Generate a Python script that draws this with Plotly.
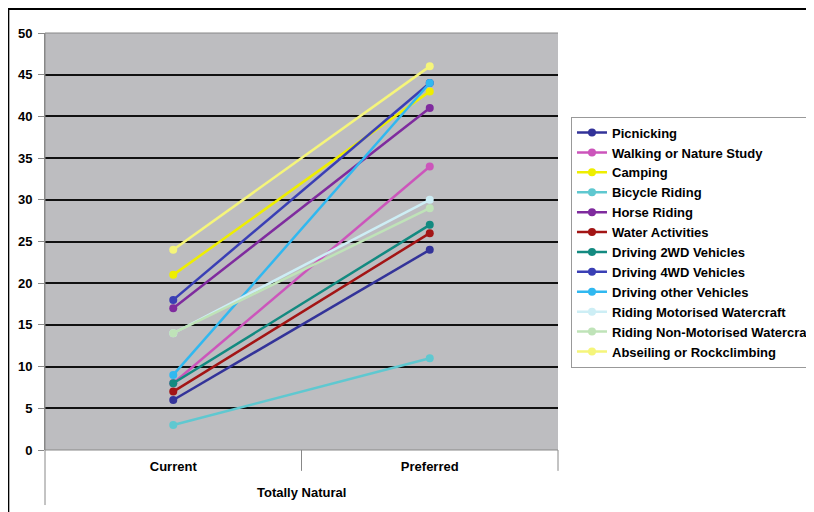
import plotly.graph_objects as go

group_label = "Totally Natural"
periods = ["Current", "Preferred"]

series_names = [
    "Picnicking",
    "Walking or Nature Study",
    "Camping",
    "Bicycle Riding",
    "Horse Riding",
    "Water Activities",
    "Driving 2WD Vehicles",
    "Driving 4WD Vehicles",
    "Driving other Vehicles",
    "Riding Motorised Watercraft",
    "Riding Non-Motorised Watercraft",
    "Abseiling or Rockclimbing",
]
current_values = [6, 8, 21, 3, 17, 7, 8, 18, 9, 14, 14, 24]
preferred_values = [24, 34, 43, 11, 41, 26, 27, 44, 44, 30, 29, 46]

colors = [
    "#333399", "#cc55bb", "#eeee00", "#5fc8d0", "#7f2b9e", "#a31515",
    "#138a80", "#3a3fb5", "#30b8f0", "#cdeef5", "#bfe3b8", "#f5f57a",
]

FONT = "Liberation Sans, Arial, sans-serif"

fig = go.Figure()
for name, c, p, col in zip(series_names, current_values, preferred_values, colors):
    fig.add_trace(go.Scatter(
        x=periods,
        y=[c, p],
        mode="lines+markers",
        name=name,
        line=dict(color=col, width=2.5),
        marker=dict(color=col, size=8),
    ))

fig.update_layout(
    width=806, height=504,
    margin=dict(l=37, r=256, t=25, b=62, autoexpand=False),
    paper_bgcolor="white",
    plot_bgcolor="#bdbdc0",
    font=dict(family=FONT, size=13, color="black", weight="bold"),
    showlegend=True,
    legend=dict(
        xref="container", yref="container",
        x=0.6985, y=0.7845, xanchor="left", yanchor="top",
        bordercolor="#999999", borderwidth=1, bgcolor="white",
        font=dict(family=FONT, size=13, weight="bold"), tracegroupgap=0,
        entrywidth=230, entrywidthmode="pixels",
    ),
)
fig.update_xaxes(
    type="category", range=[-0.5, 1.5],
    showgrid=False, showline=False, ticks="",
    ticklabelstandoff=7,
    tickfont=dict(family=FONT, size=13, weight="bold"),
)
fig.update_yaxes(
    range=[0, 50], dtick=5, showgrid=True, gridcolor="#111111", gridwidth=1.5,
    zeroline=False, showline=True, linecolor="#888888", mirror=False,
    ticks="outside", ticklen=6, tickcolor="#888888",
    ticklabelstandoff=3,
    tickfont=dict(family=FONT, size=13, weight="bold"),
)

# category axis line and dividers between categories
fig.add_shape(type="line", xref="paper", yref="paper",
              x0=0, x1=1, y0=0, y1=0, line=dict(color="#888888", width=1))
fig.add_shape(type="line", xref="paper", yref="paper",
              x0=0, x1=0, y0=1, y1=-0.132, line=dict(color="#888888", width=1))
fig.add_shape(type="line", xref="x", yref="paper",
              x0=0.5, x1=0.5, y0=0, y1=-0.05, line=dict(color="#888888", width=1))
fig.add_shape(type="line", xref="paper", yref="paper",
              x0=1, x1=1, y0=0, y1=-0.05, line=dict(color="#888888", width=1))
fig.add_shape(type="line", xref="paper", yref="paper",
              x0=0, x1=1, y0=1, y1=1, line=dict(color="#888888", width=1))

fig.add_annotation(text=group_label, xref="paper", yref="paper",
                   x=0.5, y=-0.103, xanchor="center", yanchor="middle",
                   showarrow=False, font=dict(family=FONT, size=13, weight="bold"))

# outer frame (top and left edges)
fig.add_shape(type="line", xref="paper", yref="paper",
              x0=-0.072, x1=1.6, y0=1.0576, y1=1.0576,
              line=dict(color="black", width=2))
fig.add_shape(type="line", xref="paper", yref="paper",
              x0=-0.0715, x1=-0.0715, y0=1.06, y1=-0.2,
              line=dict(color="black", width=2))

fig.write_html("out.html")
